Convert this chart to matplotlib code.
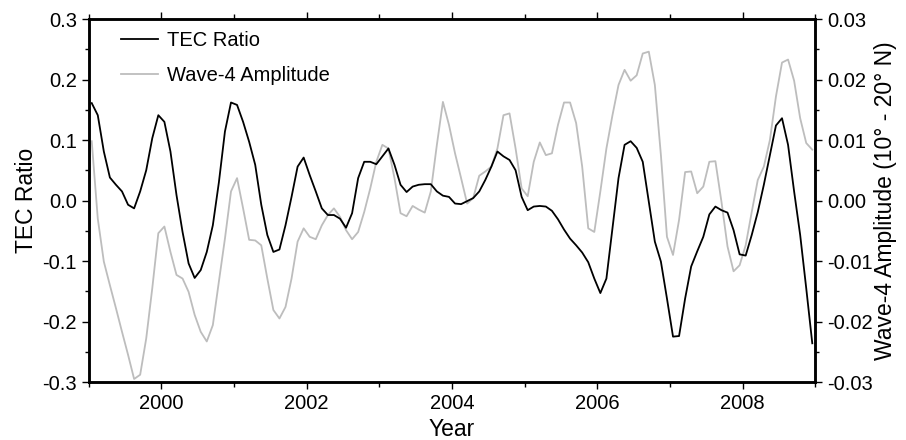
import numpy as np
import matplotlib
matplotlib.use("Agg")
import matplotlib.pyplot as plt
from matplotlib.ticker import MultipleLocator, FixedLocator, FormatStrFormatter

plt.rcParams['font.family'] = ['Liberation Sans', 'DejaVu Sans']
plt.rcParams['axes.unicode_minus'] = False

# monthly time axis (mid-month), Jan 1999 - Dec 2008
months = np.arange(120)
years = 1999 + (months + 0.5) / 12.0

tec_ratio = [
    0.161, 0.141, 0.081, 0.038, 0.026, 0.015, -0.007, -0.013, 0.015, 0.050, 0.103, 0.141,
    0.130, 0.081, 0.009, -0.052, -0.104, -0.128, -0.115, -0.085, -0.041, 0.030, 0.114, 0.162,
    0.158, 0.130, 0.097, 0.059, -0.007, -0.057, -0.085, -0.081, -0.041, 0.006, 0.056, 0.071,
    0.042, 0.015, -0.013, -0.024, -0.024, -0.030, -0.045, -0.021, 0.037, 0.064, 0.064, 0.060,
    0.073, 0.086, 0.059, 0.026, 0.014, 0.023, 0.026, 0.027, 0.027, 0.015, 0.008, 0.006,
    -0.005, -0.006, -0.001, 0.004, 0.015, 0.034, 0.056, 0.081, 0.073, 0.067, 0.050, 0.006,
    -0.016, -0.010, -0.009, -0.010, -0.017, -0.031, -0.048, -0.063, -0.074, -0.086, -0.102, -0.129,
    -0.153, -0.129, -0.046, 0.037, 0.092, 0.098, 0.087, 0.064, -0.002, -0.068, -0.101, -0.162,
    -0.225, -0.224, -0.162, -0.109, -0.084, -0.060, -0.023, -0.010, -0.016, -0.020, -0.049, -0.089,
    -0.091, -0.057, -0.019, 0.026, 0.075, 0.124, 0.136, 0.092, 0.015, -0.057, -0.145, -0.236,
]

wave4_amp = [
    0.0098, -0.0030, -0.0101, -0.0140, -0.0178, -0.0217, -0.0255, -0.0295, -0.0288, -0.0228, -0.0145, -0.0054,
    -0.0043, -0.0085, -0.0123, -0.0129, -0.0151, -0.0189, -0.0217, -0.0233, -0.0206, -0.0134, -0.0063, 0.0015,
    0.0037, -0.0013, -0.0065, -0.0066, -0.0074, -0.0129, -0.0181, -0.0195, -0.0176, -0.0129, -0.0068, -0.0046,
    -0.0060, -0.0064, -0.0041, -0.0024, -0.0013, -0.0027, -0.0049, -0.0064, -0.0052, -0.0019, 0.0020, 0.0064,
    0.0092, 0.0086, 0.0037, -0.0021, -0.0026, -0.0009, -0.0015, -0.0020, 0.0015, 0.0092, 0.0163, 0.0125,
    0.0078, 0.0037, -0.0005, 0.0004, 0.0041, 0.0048, 0.0056, 0.0086, 0.0141, 0.0144, 0.0086, 0.0020,
    0.0007, 0.0064, 0.0096, 0.0075, 0.0078, 0.0125, 0.0162, 0.0162, 0.0128, 0.0056, -0.0046, -0.0052,
    0.0015, 0.0086, 0.0141, 0.0191, 0.0216, 0.0198, 0.0207, 0.0243, 0.0246, 0.0191, 0.0075, -0.0060,
    -0.0090, -0.0032, 0.0047, 0.0048, 0.0012, 0.0023, 0.0064, 0.0065, -0.0002, -0.0076, -0.0117, -0.0107,
    -0.0074, -0.0019, 0.0034, 0.0056, 0.0100, 0.0172, 0.0228, 0.0233, 0.0198, 0.0136, 0.0095, 0.0084,
]

year_ticks = [2000, 2002, 2004, 2006, 2008]
year_labels = ["2000", "2002", "2004", "2006", "2008"]

fig = plt.figure(figsize=(9.06, 4.40), dpi=100)
ax = fig.add_axes([0.0979, 0.1318, 0.8020, 0.8250])
ax2 = ax.twinx()

l2, = ax2.plot(years, wave4_amp, color='#bdbdbd', lw=1.3, label='Wave-4 Amplitude')
l1, = ax.plot(years, tec_ratio, color='black', lw=1.3, label='TEC Ratio')

ax.set_zorder(ax2.get_zorder() + 1)
ax.patch.set_visible(False)

ax.set_xlim(1999, 2009)
ax.set_ylim(-0.3, 0.3)
ax2.set_ylim(-0.03, 0.03)

ax.xaxis.set_major_locator(FixedLocator(year_ticks))
ax.set_xticklabels(year_labels)
ax.xaxis.set_minor_locator(MultipleLocator(1))
ax.yaxis.set_major_locator(MultipleLocator(0.1))
ax.yaxis.set_minor_locator(MultipleLocator(0.05))
ax.yaxis.set_major_formatter(FormatStrFormatter('%.1f'))
ax2.yaxis.set_major_locator(MultipleLocator(0.01))
ax2.yaxis.set_minor_locator(MultipleLocator(0.005))
ax2.yaxis.set_major_formatter(FormatStrFormatter('%.2f'))

for a in (ax, ax2):
    for s in a.spines.values():
        s.set_linewidth(1.8)
ax.tick_params(axis='x', which='both', direction='out', top=True, labelsize=14.5, width=1.0)
ax.tick_params(axis='x', which='major', length=5)
ax.tick_params(axis='x', which='minor', length=3.5)
ax.tick_params(axis='y', which='both', direction='out', labelsize=14.5, width=1.0)
ax.tick_params(axis='y', which='major', length=5)
ax.tick_params(axis='y', which='minor', length=3)
ax2.tick_params(axis='y', which='both', direction='out', labelsize=14.5, width=1.0)
ax2.tick_params(axis='y', which='major', length=5)
ax2.tick_params(axis='y', which='minor', length=3)

ax.set_xlabel('Year', fontsize=16.5, labelpad=4)
ax.set_ylabel('TEC Ratio', fontsize=16.5, labelpad=3)
ax2.set_ylabel('Wave-4 Amplitude (10° - 20° N)', fontsize=16.5, labelpad=1)

leg = ax.legend(handles=[l1, l2], loc='upper left', bbox_to_anchor=(0.045, 0.966),
                frameon=False, fontsize=14.5, handlelength=1.8, handletextpad=0.45,
                labelspacing=0.8, borderpad=0, borderaxespad=0)

fig.savefig('out.png', dpi=100)
